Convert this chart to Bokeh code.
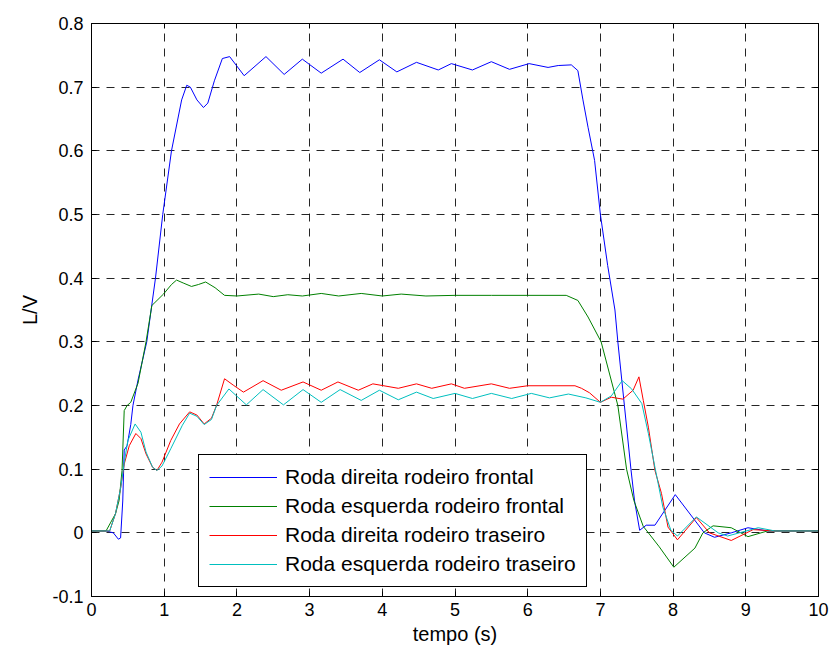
from bokeh.plotting import figure
from bokeh.models import (Range1d, LinearAxis, Legend, LegendItem, FixedTicker,
                          CustomJSTickFormatter, CustomLabelingPolicy)
from bokeh.embed import file_html
from bokeh.resources import INLINE

# ---------------- data ----------------
x_ticks = [0, 1, 2, 3, 4, 5, 6, 7, 8, 9, 10]
y_ticks = [-0.1, 0.0, 0.1, 0.2, 0.3, 0.4, 0.5, 0.6, 0.7, 0.8]

labels = ["Roda direita rodeiro frontal", "Roda esquerda rodeiro frontal",
          "Roda direita rodeiro traseiro", "Roda esquerda rodeiro traseiro"]
colors = ["#0000FF", "#008000", "#FF0000", "#00BFBF"]

t_df = [0, 0.2, 0.3, 0.37, 0.4, 0.43, 0.45, 0.49, 0.54, 0.57, 0.64, 0.76, 0.88,
        0.98, 1.10, 1.24, 1.31, 1.36, 1.45, 1.54, 1.6, 1.69, 1.8, 1.9, 2.1, 2.4,
        2.65, 2.9, 3.16, 3.46, 3.69, 3.96, 4.2, 4.47, 4.77, 4.95, 5.24, 5.5, 5.75,
        6.02, 6.28, 6.42, 6.6, 6.69, 6.76, 6.83, 6.92, 7.0, 7.1, 7.2, 7.24, 7.33,
        7.42, 7.47, 7.54, 7.63, 7.75, 8.03, 8.43, 8.57, 8.8, 9.03, 9.3, 10]
y_df = [0.003, 0.003, 0.0, -0.01, -0.008, 0.05, 0.13, 0.137, 0.17, 0.2, 0.24,
        0.3, 0.4, 0.5, 0.6, 0.68, 0.703, 0.70, 0.68, 0.668, 0.675, 0.71, 0.745,
        0.748, 0.718, 0.748, 0.72, 0.744, 0.722, 0.744, 0.723, 0.743, 0.724,
        0.739, 0.727, 0.737, 0.727, 0.740, 0.728, 0.737, 0.731, 0.734, 0.735,
        0.726, 0.68, 0.637, 0.585, 0.5, 0.42, 0.35, 0.3, 0.2, 0.1, 0.05, 0.004,
        0.012, 0.012, 0.06, 0.0, -0.007, 0.0, 0.008, 0.003, 0.003]

t_ef = [0, 0.2, 0.33, 0.38, 0.42, 0.45, 0.49, 0.54, 0.64, 0.75, 0.83, 0.99, 1.1,
        1.17, 1.27, 1.375, 1.47, 1.57, 1.7, 1.83, 2.0, 2.3, 2.5, 2.7, 2.9, 3.16,
        3.4, 3.71, 4.0, 4.26, 4.6, 5.0, 5.5, 6.0, 6.53, 6.69, 6.83, 7.01, 7.24,
        7.36, 7.46, 7.59, 7.66, 7.81, 8.01, 8.3, 8.41, 8.55, 8.8, 9.03, 9.3, 10]
y_ef = [0.003, 0.003, 0.03, 0.051, 0.098, 0.192, 0.2, 0.205, 0.235, 0.3, 0.357,
        0.375, 0.39, 0.397, 0.392, 0.387, 0.39, 0.394, 0.385, 0.373, 0.372,
        0.375, 0.371, 0.374, 0.372, 0.376, 0.372, 0.376, 0.372, 0.375, 0.372,
        0.373, 0.373, 0.373, 0.373, 0.365, 0.339, 0.3, 0.2, 0.1, 0.051, 0.01,
        0.0, -0.022, -0.054, -0.024, 0.0, 0.011, 0.008, -0.006, 0.003, 0.003]

t_dt = [0, 0.25, 0.33, 0.4, 0.45, 0.52, 0.61, 0.68, 0.75, 0.84, 0.9, 0.97, 1.09,
        1.21, 1.35, 1.45, 1.55, 1.65, 1.72, 1.83, 1.95, 2.09, 2.36, 2.61, 2.91,
        3.16, 3.39, 3.67, 3.87, 4.22, 4.47, 4.68, 4.95, 5.13, 5.5, 5.75, 6.0,
        6.65, 6.74, 6.85, 7.0, 7.15, 7.31, 7.45, 7.53, 7.59, 7.66, 7.75, 7.84,
        7.93, 8.06, 8.32, 8.5, 8.8, 9.1, 9.4, 10]
y_dt = [0.003, 0.003, 0.03, 0.07, 0.108, 0.137, 0.156, 0.148, 0.124, 0.103,
        0.098, 0.111, 0.145, 0.171, 0.19, 0.185, 0.171, 0.18, 0.2, 0.242, 0.232,
        0.221, 0.239, 0.224, 0.237, 0.224, 0.237, 0.224, 0.234, 0.227, 0.234,
        0.227, 0.234, 0.227, 0.234, 0.227, 0.231, 0.231, 0.227, 0.22, 0.205,
        0.213, 0.21, 0.224, 0.245, 0.208, 0.166, 0.098, 0.062, 0.009, -0.011,
        0.024, 0.0, -0.012, 0.005, 0.003, 0.003]

t_et = [0, 0.25, 0.33, 0.4, 0.45, 0.5, 0.6, 0.68, 0.75, 0.84, 0.9, 0.97, 1.09,
        1.25, 1.35, 1.45, 1.55, 1.65, 1.72, 1.89, 2.13, 2.36, 2.64, 2.91, 3.16,
        3.42, 3.71, 3.96, 4.22, 4.47, 4.7, 5.0, 5.24, 5.5, 5.78, 6.05, 6.3, 6.56,
        6.8, 7.0, 7.15, 7.3, 7.43, 7.57, 7.66, 7.75, 7.86, 7.97, 8.06, 8.32,
        8.62, 8.75, 9.17, 9.4, 10]
y_et = [0.003, 0.003, 0.03, 0.07, 0.11, 0.145, 0.171, 0.158, 0.127, 0.103,
        0.098, 0.105, 0.132, 0.169, 0.188, 0.183, 0.17, 0.178, 0.2, 0.226, 0.201,
        0.225, 0.201, 0.225, 0.205, 0.225, 0.208, 0.224, 0.209, 0.221, 0.211,
        0.219, 0.211, 0.219, 0.211, 0.219, 0.212, 0.218, 0.212, 0.205, 0.215,
        0.239, 0.226, 0.203, 0.156, 0.103, 0.04, 0.004, -0.005, 0.025, 0.0,
        -0.005, 0.008, 0.003, 0.003]

series_t = [t_df, t_ef, t_dt, t_et]
series_y = [y_df, y_ef, y_dt, y_et]

FONT = "Liberation Sans"

p = figure(width=832, height=653, output_backend="svg", toolbar_location=None,
           x_range=Range1d(0, 10), y_range=Range1d(-0.1, 0.8),
           min_border_left=91, min_border_right=14, min_border_top=23,
           min_border_bottom=57)
p.background_fill_color = "white"
p.border_fill_color = "white"
p.outline_line_color = "black"
p.outline_line_width = 1
p.outline_line_alpha = 1

fmt = CustomJSTickFormatter(code="const v = Math.round(tick*10)/10; return v.toString();")

for ax in (p.xaxis[0], p.yaxis[0]):
    ax.major_tick_in = 5
    ax.major_tick_out = 0
    ax.minor_tick_in = 0
    ax.minor_tick_out = 0
    ax.axis_line_color = "black"
    ax.major_tick_line_color = "black"
    ax.major_label_text_font = FONT
    ax.major_label_text_font_size = "18px"
    ax.major_label_text_color = "black"
    ax.axis_label_text_font = FONT
    ax.axis_label_text_font_size = "20px"
    ax.axis_label_text_font_style = "normal"
    ax.axis_label_text_color = "black"
    ax.formatter = fmt

p.xaxis[0].ticker = FixedTicker(ticks=x_ticks)
p.yaxis[0].ticker = FixedTicker(ticks=y_ticks)
p.xaxis[0].axis_label = "tempo (s)"
p.yaxis[0].axis_label = "L/V"
p.xaxis[0].major_label_standoff = 6
p.xaxis[0].axis_label_standoff = 4
p.yaxis[0].major_label_standoff = 8
p.yaxis[0].axis_label_standoff = 8

no_labels = CustomLabelingPolicy(code="return new indices.constructor(indices.size);")
for place, tk in (("above", x_ticks), ("right", y_ticks)):
    ax = LinearAxis(ticker=FixedTicker(ticks=tk), major_tick_in=5, major_tick_out=0,
                    minor_tick_in=0, minor_tick_out=0, major_label_text_font_size="1px",
                    major_label_standoff=0, axis_line_color="black",
                    major_label_policy=no_labels)
    p.add_layout(ax, place)

p.xgrid.ticker = FixedTicker(ticks=x_ticks)
p.ygrid.ticker = FixedTicker(ticks=y_ticks)
for g in (p.xgrid[0], p.ygrid[0]):
    g.grid_line_color = "black"
    g.grid_line_alpha = 0.85
    g.grid_line_dash = "8 7"
    g.grid_line_width = 1

items = []
for t, y, c, lab in zip(series_t, series_y, colors, labels):
    r = p.line(t, y, line_color=c, line_width=1)
    items.append(LegendItem(label=lab, renderers=[r]))

legend = Legend(items=items, location=(107, 9), margin=0, padding=10, spacing=5,
                glyph_width=68, glyph_height=24, label_height=24, label_standoff=8,
                label_text_font=FONT, label_text_font_size="21px",
                label_text_color="black", border_line_color="black",
                border_line_width=1, border_line_alpha=1,
                background_fill_color="white", background_fill_alpha=1)
p.add_layout(legend)

open("out.html", "w").write(file_html(p, INLINE))
